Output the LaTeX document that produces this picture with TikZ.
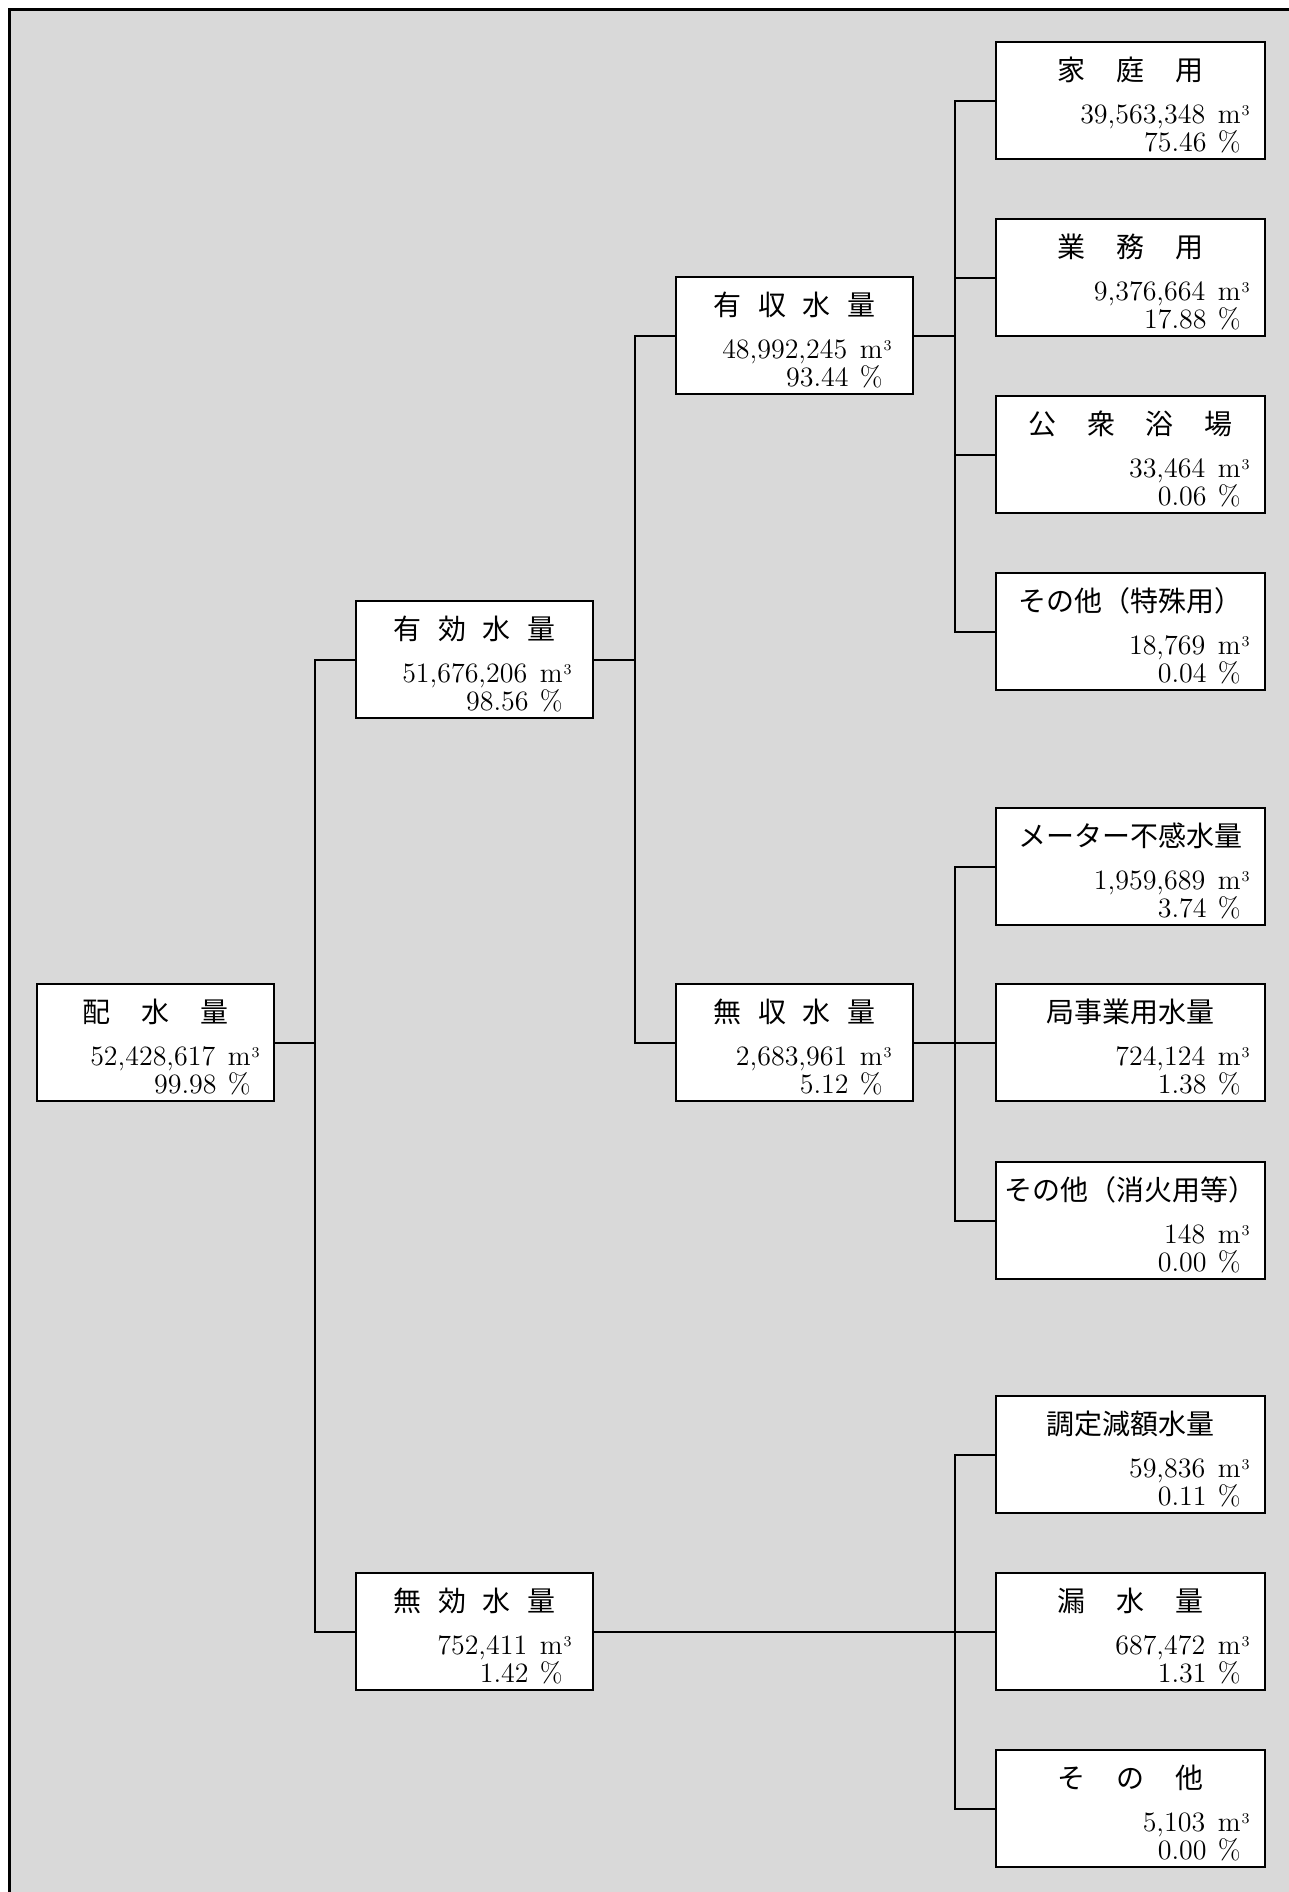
\documentclass[tikz,border=0pt]{standalone}
\usepackage{fontspec}
\newfontfamily\jfont{Noto Sans CJK JP}
\usetikzlibrary{calc}
\definecolor{panelgray}{RGB}{217,217,217}

\newcommand{\widegap}{\hspace{15.5pt}}
\newcommand{\narrowgap}{\hspace{8.25pt}}
\newcommand{\cube}{\kern0.5pt\raisebox{4.4pt}{\fontsize{7.5}{7.5}\selectfont 3}}
% box with title, volume and share
\newcommand{\qbox}[7]{%
  \node[#2] (#1) at (#3) {};
  \node[qtext, anchor=base] (#1-t) at ($(#1.north)+(0,40)$) {\jfont #4};
  \node[qtext, anchor=base east] (#1-m) at ($(#1.north east)+(-#7,83)$) {#5\hspace{0.45em}m\rlap{\cube}};
  \node[qtext, anchor=base east] (#1-p) at ($(#1.north east)+(-#7,111)$) {#6\hspace{0.4em}\%};
}

\tikzset{
  qframe/.style={draw, line width=1.1pt, fill=white, inner sep=0pt, minimum height=58.5pt},
  midbox/.style={qframe, minimum width=118.5pt},
  sidebox/.style={qframe, minimum width=134.5pt},
  qtext/.style={inner sep=0pt, font=\fontsize{14}{14}\selectfont},
  wire/.style={line width=1pt}
}

\begin{document}
\begin{tikzpicture}[x=0.5pt, y=-0.5pt]
  \useasboundingbox (0,0) rectangle (1289,1892);
  % panel
  \fill[panelgray] (9.5,9.5) rectangle (1289,1892);
  \draw[line width=1.5pt] (9.5,1892) -- (9.5,9.5) -- (1289,9.5);

  % first level
  \qbox{haisui}{midbox}{155.5,1042.5}{配\widegap 水\widegap 量}{52,428,617}{99.98}{24}
  % second level
  \qbox{yuko}{midbox}{474.5,659.5}{有\narrowgap 効\narrowgap 水\narrowgap 量}{51,676,206}{98.56}{31}
  \qbox{muko}{midbox}{474.5,1631.5}{無\narrowgap 効\narrowgap 水\narrowgap 量}{752,411}{1.42}{31}
  % third level
  \qbox{yushu}{midbox}{794.5,335.5}{有\narrowgap 収\narrowgap 水\narrowgap 量}{48,992,245}{93.44}{31}
  \qbox{mushu}{midbox}{794.5,1042.5}{無\narrowgap 収\narrowgap 水\narrowgap 量}{2,683,961}{5.12}{31}
  % breakdown
  \qbox{katei}{sidebox}{1130.5,100.5}{家\widegap 庭\widegap 用}{39,563,348}{75.46}{25}
  \qbox{gyomu}{sidebox}{1130.5,277.5}{業\widegap 務\widegap 用}{9,376,664}{17.88}{25}
  \qbox{koshu}{sidebox}{1130.5,454.5}{公\widegap 衆\widegap 浴\widegap 場}{33,464}{0.06}{25}
  \qbox{tokushu}{sidebox}{1130.5,631.5}{その他（特殊用）}{18,769}{0.04}{25}
  \qbox{meter}{sidebox}{1130.5,866.5}{メーター不感水量}{1,959,689}{3.74}{25}
  \qbox{kyoku}{sidebox}{1130.5,1042.5}{局事業用水量}{724,124}{1.38}{25}
  \qbox{shoka}{sidebox}{1130.5,1220.5}{その他（消火用等）}{148}{0.00}{25}
  \qbox{chotei}{sidebox}{1130.5,1454.5}{調定減額水量}{59,836}{0.11}{25}
  \qbox{rosui}{sidebox}{1130.5,1631.5}{漏\widegap 水\widegap 量}{687,472}{1.31}{25}
  \qbox{sonota}{sidebox}{1130.5,1808.5}{そ\widegap の\widegap 他}{5,103}{0.00}{25}

  % buses
  \coordinate (busA) at (315,1042.5);
  \coordinate (busB) at (635,1042.5);
  \coordinate (busC1) at (955,335.5);
  \coordinate (busC2) at (955,1042.5);
  \coordinate (busC3) at (955,1631.5);

  % connectors
  \draw[wire] (yuko.west) -| (busA) |- (muko.west);
  \draw[wire] (haisui.east) -- (busA);
  \draw[wire] (yuko.east) -- (yuko.east -| busB);
  \draw[wire] (yushu.west) -| (busB) -- (mushu.west);
  \draw[wire] (yushu.east) -- (busC1);
  \draw[wire] (katei.west) -| (busC1) |- (tokushu.west);
  \draw[wire] (gyomu.west) -- (gyomu.west -| busC1);
  \draw[wire] (koshu.west) -- (koshu.west -| busC1);
  \draw[wire] (meter.west) -| (busC2) |- (shoka.west);
  \draw[wire] (mushu.east) -- (kyoku.west);
  \draw[wire] (chotei.west) -| (busC3) |- (sonota.west);
  \draw[wire] (muko.east) -- (rosui.west);
\end{tikzpicture}
\end{document}
